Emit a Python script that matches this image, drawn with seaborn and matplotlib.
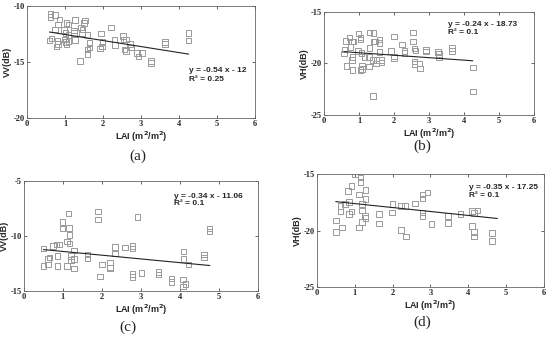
import matplotlib
matplotlib.use("Agg")
import matplotlib.pyplot as plt
import seaborn as sns
import numpy as np
import pandas as pd

# ---------------- data ----------------
lai_a = [0.62, 0.62, 0.74, 0.85, 1.04, 1.09, 1.26, 1.53, 1.50, 0.82, 0.74, 0.97, 1.01, 1.09,
         0.59, 0.65, 0.80, 0.78, 0.81, 1.00, 1.03, 1.04, 1.09, 1.24, 1.24, 1.26, 1.46, 1.44,
         1.42, 1.59, 1.64, 1.59, 1.59, 1.39, 1.64, 1.94, 1.99, 1.97, 1.92, 2.21, 2.30, 2.32,
         2.52, 2.54, 2.60, 2.56, 2.60, 2.71, 2.73, 2.90, 2.93, 3.02, 3.26, 3.26, 3.63, 3.63,
         4.25, 4.25]
vv_a = [-10.72, -10.96, -10.78, -11.2, -11.5, -11.64, -11.25, -11.3, -11.5, -11.64, -12.1, -12.15,
        -12.4, -12.57, -13.07, -12.9, -13.1, -13.6, -13.4, -13.0, -13.2, -13.4, -13.1, -12.2,
        -12.4, -13.04, -12.1, -12.4, -11.9, -12.6, -13.3, -13.9, -14.3, -14.9, -13.7, -12.45,
        -13.2, -13.6, -13.8, -11.9, -13.0, -13.5, -12.7, -13.0, -13.0, -13.9, -14.0, -13.4,
        -13.7, -14.2, -14.5, -14.2, -14.9, -15.1, -13.2, -13.4, -12.4, -13.07]

lai_b = [0.59, 0.57, 0.62, 0.64, 0.73, 0.76, 0.80, 0.85, 0.81, 0.80, 0.81, 0.99, 1.05, 1.05,
         0.97, 1.07, 1.09, 1.09, 1.05, 1.16, 1.28, 1.29, 1.30, 1.42, 1.30, 1.42, 1.45, 1.40,
         1.48, 1.50, 1.59, 1.59, 1.59, 1.64, 1.64, 1.40, 1.92, 2.00, 2.00, 2.00, 2.23, 2.30,
         2.30, 2.54, 2.54, 2.59, 2.61, 2.59, 2.59, 2.73, 2.75, 2.92, 2.92, 3.26, 3.28, 3.28,
         3.66, 3.66, 4.26, 4.26]
vh_b = [-18.65, -19.03, -17.84, -20.26, -17.48, -18.39, -17.9, -17.9, -19.4, -19.7, -20.65, -17.1,
        -17.5, -17.7, -18.8, -19.0, -20.26, -20.55, -20.65, -19.4, -19.4, -20.3, -17.0, -17.03,
        -18.5, -17.9, -17.9, -19.68, -20.0, -19.68, -17.7, -18.0, -18.9, -19.7, -19.9, -23.16,
        -18.8, -17.4, -19.35, -19.5, -18.16, -18.8, -18.97, -17.0, -17.9, -18.55, -18.77, -19.84,
        -20.06, -20.0, -20.5, -18.7, -18.87, -18.9, -19.1, -19.4, -18.5, -18.8, -20.4, -22.74]

lai_c = [0.50, 0.50, 0.62, 0.62, 0.65, 0.74, 0.84, 0.86, 0.86, 0.91, 0.99, 0.99, 1.14, 1.16,
         1.17, 1.10, 1.17, 1.10, 1.20, 1.20, 1.29, 1.29, 1.29, 1.63, 1.63, 1.90, 1.90, 1.95,
         2.00, 2.21, 2.21, 2.21, 2.34, 2.34, 2.59, 2.79, 2.79, 2.79, 2.79, 2.91, 3.02, 3.45,
         3.45, 3.79, 3.79, 4.09, 4.09, 4.08, 4.08, 4.15, 4.22, 4.62, 4.62, 4.76, 4.76]
vv_c = [-11.15, -12.7, -12.1, -12.6, -11.97, -10.88, -10.76, -11.8, -12.7, -10.76, -8.7, -9.33,
        -7.94, -9.27, -9.88, -10.5, -10.67, -12.7, -11.8, -12.18, -11.3, -12.1, -12.94, -11.67,
        -12.03, -7.76, -8.5, -13.7, -12.6, -12.4, -12.85, -12.9, -11.0, -11.6, -11.06, -10.9,
        -11.15, -13.45, -13.75, -8.24, -13.35, -13.25, -13.5, -13.85, -14.2, -11.4, -12.1,
        -13.94, -14.6, -14.35, -12.6, -11.67, -11.97, -9.3, -9.6]

lai_d = [0.50, 0.50, 0.63, 0.63, 0.66, 0.75, 0.85, 0.85, 0.83, 0.92, 0.92, 1.01, 1.12, 1.12,
         1.16, 1.16, 1.19, 1.20, 1.20, 1.29, 1.29, 1.27, 1.29, 1.64, 1.64, 1.98, 2.00, 2.22,
         2.22, 2.33, 2.35, 2.59, 2.79, 2.79, 2.79, 2.79, 2.92, 3.03, 3.47, 3.47, 3.80, 4.10,
         4.10, 4.15, 4.15, 4.15, 4.24, 4.63, 4.63]
vh_d = [-19.1, -20.1, -17.8, -18.3, -19.7, -17.65, -17.45, -18.5, -16.5, -16.03, -18.3, -15.03,
        -16.8, -19.7, -15.3, -15.7, -17.65, -18.2, -19.25, -16.4, -17.2, -18.7, -18.9, -18.5,
        -19.35, -18.4, -17.65, -19.94, -17.8, -17.8, -20.5, -17.6, -16.8, -17.15, -18.4, -18.7,
        -16.6, -19.4, -18.7, -19.3, -18.5, -18.25, -19.6, -18.45, -20.1, -20.5, -18.2, -20.2,
        -20.9]

slopes = [-0.54, -0.24, -0.34, -0.35]
intercepts = [-12, -18.73, -11.06, -17.25]
eq_labels = ["y = -0.54 x - 12", "y = -0.24 x - 18.73", "y = -0.34 x - 11.06", "y = -0.35 x - 17.25"]
r2_labels = ["R² = 0.25", "R² = 0.1", "R² = 0.1", "R² = 0.1"]
ylabels = ["VV(dB)", "VH(dB)", "VV(dB)", "VH(dB)"]
yticks = [[-20, -15, -10], [-25, -20, -15], [-15, -10, -5], [-25, -20, -15]]
xticks = [0, 1, 2, 3, 4, 5, 6]
panel_labels = ["(a)", "(b)", "(c)", "(d)"]
line_ends = [4.25, 4.25, 4.77, 4.77]

# ---------------- layout ----------------
sns.set_style("white")
plt.rcParams['font.family'] = ['DejaVu Sans']

fig = plt.figure(figsize=(5.5, 3.37), dpi=100)
rects = [[0.049, 0.650, 0.415, 0.332],
         [0.589, 0.659, 0.382, 0.306],
         [0.0436, 0.1365, 0.425, 0.326],
         [0.576, 0.148, 0.413, 0.335]]
text_pos = [(4.25, -15.8), (3.54, -16.2), (3.84, -6.36), (4.02, -16.2)]
r2_dy = [0.8, 0.8, 0.7, 0.7]
label_pos = [(0.251, 0.535), (0.767, 0.565), (0.232, 0.03), (0.767, 0.045)]

datasets = [(lai_a, vv_a), (lai_b, vh_b), (lai_c, vv_c), (lai_d, vh_d)]

for i, (xs, ys) in enumerate(datasets):
    ax = fig.add_axes(rects[i])
    df = pd.DataFrame({"LAI": xs, "val": ys})
    sns.scatterplot(data=df, x="LAI", y="val", ax=ax, marker="s", s=16,
                    facecolor="none", edgecolor="#9a9a9a", linewidth=0.7)
    xl = np.array([min(xs), line_ends[i]])
    ax.plot(xl, slopes[i] * xl + intercepts[i], color="#222222", lw=0.8)
    ax.set_xlim(0, 6)
    ax.set_ylim(yticks[i][0], yticks[i][-1])
    ax.set_xticks(xticks)
    ax.set_yticks(yticks[i])
    ax.set_xticklabels([str(t) for t in xticks], family="Liberation Serif",
                       fontweight="bold", fontsize=6)
    ax.set_yticklabels([str(t) for t in yticks[i]], family="Liberation Serif",
                       fontweight="bold", fontsize=6)
    ax.tick_params(direction="in", length=2, width=0.5, pad=1.5,
                   top=True, right=True, bottom=True, left=True)
    for sp in ax.spines.values():
        sp.set_color("#666666")
        sp.set_linewidth(0.6)
    ax.set_xlabel("LAI (m$^{\\mathbf{2}}$/m$^{\\mathbf{2}}$)", fontsize=6.5,
                  fontweight="bold", family="Liberation Sans", labelpad=1)
    ax.set_ylabel(ylabels[i], fontsize=6.5, fontweight="bold",
                  family="Liberation Sans", labelpad=1)
    tx, ty = text_pos[i]
    ax.text(tx, ty, eq_labels[i], fontsize=6, fontweight="bold",
            family="Liberation Sans", va="center", ha="left")
    ax.text(tx, ty - r2_dy[i], r2_labels[i], fontsize=6, fontweight="bold",
            family="Liberation Sans", va="center", ha="left")
    fig.text(label_pos[i][0], label_pos[i][1], panel_labels[i], fontsize=11,
             family="Liberation Serif", ha="center", va="center")

fig.savefig("out.png", dpi=100)
